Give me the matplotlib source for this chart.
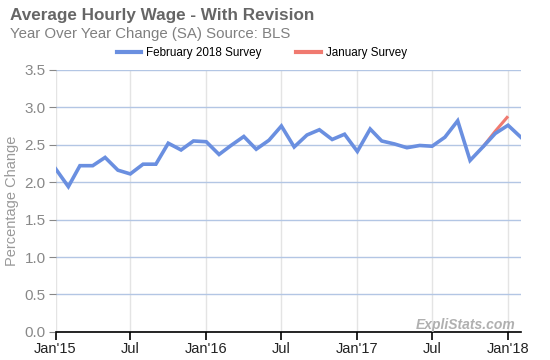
import numpy as np
import pandas as pd
import matplotlib
matplotlib.use("Agg")
import matplotlib.pyplot as plt
import matplotlib.dates as mdates

# --- data ---
months = pd.date_range("2015-01-01", "2018-02-01", freq="MS")
feb_survey = [2.18, 1.94, 2.22, 2.22, 2.33, 2.16, 2.11, 2.24, 2.24, 2.52, 2.43, 2.55,
              2.54, 2.37, 2.49, 2.61, 2.44, 2.56, 2.75, 2.47, 2.63, 2.70, 2.57, 2.64,
              2.41, 2.71, 2.55, 2.51, 2.46, 2.49, 2.48, 2.60, 2.82, 2.29, 2.47, 2.65,
              2.76, 2.60]
jan_months = pd.date_range("2017-11-01", "2018-01-01", freq="MS")
jan_survey = [2.47, 2.68, 2.88]

tick_dates = pd.to_datetime(["2015-01-01", "2015-07-01", "2016-01-01", "2016-07-01",
                             "2017-01-01", "2017-07-01", "2018-01-01"])
tick_labels = ["Jan'15", "Jul", "Jan'16", "Jul", "Jan'17", "Jul", "Jan'18"]
y_ticks = [0.0, 0.5, 1.0, 1.5, 2.0, 2.5, 3.0, 3.5]

BLUE = "#6a8fe0"
RED = "#f07a70"

plt.rcParams['font.family'] = ['Liberation Sans', 'DejaVu Sans']

fig = plt.figure(figsize=(5.5, 3.6), dpi=100)
ax = fig.add_axes([0.101, 0.078, 0.846, 0.728])

ax.plot(jan_months, jan_survey, color=RED, lw=2.2, solid_capstyle='butt')
ax.plot(months, feb_survey, color=BLUE, lw=2.6, solid_joinstyle='miter')

ax.set_xlim(months[0], months[-1])
ax.set_ylim(0, 3.5)
ax.set_yticks(y_ticks)
ax.set_yticklabels([f"{v:.1f}" for v in y_ticks])
ax.set_xticks(tick_dates)
ax.set_xticklabels(tick_labels)

for s in ["top", "right", "left"]:
    ax.spines[s].set_visible(False)
ax.spines["bottom"].set_color("#000000")
ax.spines["bottom"].set_linewidth(1.2)

ax.yaxis.grid(True, color="#b3c6e4", lw=1)
ax.xaxis.grid(True, color="#e4e4e4", lw=1)
ax.set_axisbelow(True)

ax.tick_params(axis="y", colors="#888888", labelsize=11, length=5, width=0.8, pad=2)
ax.tick_params(axis="x", colors="#000000", labelcolor="#222222", labelsize=10.5,
               length=6, width=1.2, pad=1)

ax.set_ylabel("Percentage Change", color="#999999", fontsize=10.5, labelpad=4)

fig.text(0.018, 0.958, "Average Hourly Wage - With Revision", fontsize=12.3,
         fontweight="bold", color="#666666", va="center")
fig.text(0.018, 0.905, "Year Over Year Change (SA) Source: BLS", fontsize=10.8,
         color="#808080", va="center")

# legend
handles = [plt.Line2D([], [], color=BLUE, lw=3), plt.Line2D([], [], color=RED, lw=3)]
fig.legend(handles, ["February 2018 Survey", "January Survey"], loc="center",
           bbox_to_anchor=(0.476, 0.852), ncol=2, frameon=False, fontsize=8.4,
           handlelength=2.1, handletextpad=0.4, columnspacing=3.0)

fig.text(0.937, 0.098, "ExpliStats.com", fontsize=10, fontweight="bold",
         fontstyle="italic", color="#b0b0b0", ha="right", va="center")

fig.savefig("out.png", dpi=100)
